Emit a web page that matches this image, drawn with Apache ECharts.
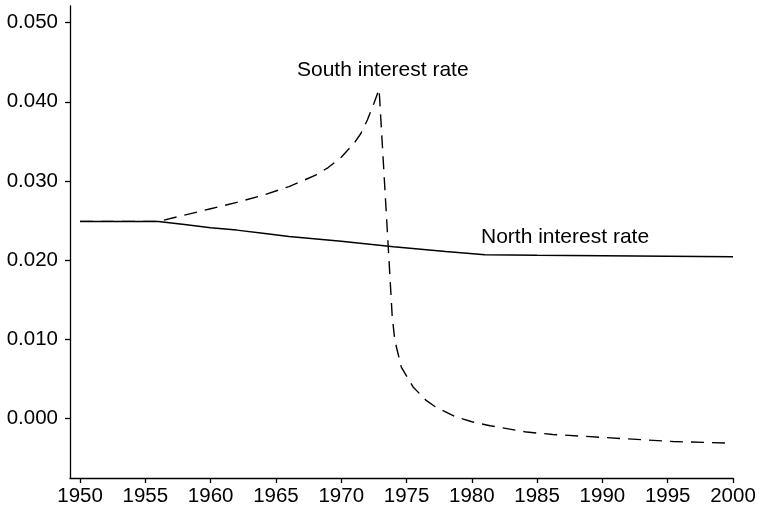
<!DOCTYPE html>
<html>
<head>
<meta charset="utf-8">
<script src="https://cdn.jsdelivr.net/npm/echarts@6/dist/echarts.min.js"></script>
<style>
  html, body { margin: 0; padding: 0; background: #fff; }
  #chart { width: 763px; height: 512px; }
</style>
</head>
<body>
<div id="chart"></div>
<script>
// ---- Data ----
const southYears = [1950, 1956, 1958, 1960, 1962, 1964, 1966, 1967, 1968, 1969, 1970, 1971, 1971.5, 1972, 1972.5, 1972.9,
                    1973.6, 1973.9, 1974.1, 1974.6, 1975.5, 1976.5, 1977.2, 1978.8, 1980, 1981.4, 1984.2, 1986.2, 1990.3, 1995.4, 2000];
const southValues = [0.0249, 0.0249, 0.0257, 0.0265, 0.0273, 0.0282, 0.0293, 0.0300, 0.0307, 0.0317, 0.0330, 0.0348, 0.0360, 0.0377, 0.0398, 0.0416,
                    0.0217, 0.0130, 0.0099, 0.0065, 0.0040, 0.0023, 0.0015, 0.0002, -0.0004, -0.0009, -0.0017, -0.0020, -0.0024, -0.0029, -0.0031];

const northYears = [1950, 1956, 1958, 1960, 1962, 1964, 1966, 1970, 1974, 1978, 1981, 1985, 1990, 1995, 2000];
const northValues = [0.0249, 0.0249, 0.0245, 0.0241, 0.0238, 0.0234, 0.0230, 0.0224, 0.0217, 0.0211, 0.0207, 0.02062, 0.02055, 0.02050, 0.02045];

const xTicks = [1950, 1955, 1960, 1965, 1970, 1975, 1980, 1985, 1990, 1995, 2000];
const yTicks = [0, 0.01, 0.02, 0.03, 0.04, 0.05];

const labelSouth = 'South interest rate';
const labelNorth = 'North interest rate';

const zip = (xs, ys) => xs.map((x, i) => [x, ys[i]]);

const chart = echarts.init(document.getElementById('chart'), null, { renderer: 'canvas' });
const FONT = 'Liberation Sans, Arial, Helvetica, sans-serif';

chart.setOption({
  animation: false,
  backgroundColor: '#ffffff',
  grid: { left: 70, right: 30, top: 6, bottom: 34, containLabel: false },
  xAxis: {
    type: 'value',
    min: 1949.23,
    max: 2000,
    axisLine: { show: true, onZero: false, lineStyle: { color: '#000', width: 1.3 } },
    axisTick: { show: true, length: 5, customValues: xTicks, lineStyle: { color: '#000', width: 1.3 } },
    axisLabel: { customValues: xTicks, color: '#000', fontSize: 20.5, fontFamily: FONT, margin: 8,
                 formatter: v => String(Math.round(v)) },
    splitLine: { show: false }
  },
  yAxis: {
    type: 'value',
    min: -0.0075,
    max: 0.0521,
    axisLine: { show: true, onZero: false, lineStyle: { color: '#000', width: 1.3 } },
    axisTick: { show: true, length: 5, customValues: yTicks, lineStyle: { color: '#000', width: 1.3 } },
    axisLabel: { customValues: yTicks, color: '#000', fontSize: 20.5, fontFamily: FONT, margin: 12,
                 formatter: v => v.toFixed(3) },
    splitLine: { show: false }
  },
  series: [
    {
      name: 'South', type: 'line', showSymbol: false, smooth: false,
      data: zip(southYears, southValues),
      lineStyle: { color: '#000', width: 1.4, type: [13, 8] }
    },
    {
      name: 'North', type: 'line', showSymbol: false, smooth: false,
      data: zip(northYears, northValues),
      lineStyle: { color: '#000', width: 1.5, type: 'solid' }
    }
  ],
  graphic: [
    { type: 'text', left: 297, top: 60, style: { text: labelSouth, fill: '#000', font: '21px ' + FONT } },
    { type: 'text', left: 481, top: 227, style: { text: labelNorth, fill: '#000', font: '21px ' + FONT } }
  ]
});
</script>
</body>
</html>
